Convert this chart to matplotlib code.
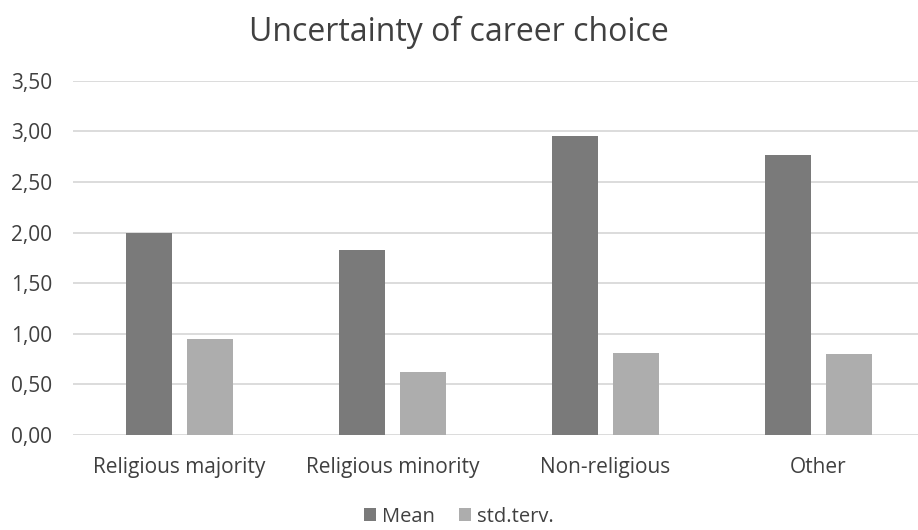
import numpy as np
import matplotlib
matplotlib.use('Agg')
import matplotlib.pyplot as plt

categories = ['Religious majority', 'Religious minority', 'Non-religious', 'Other']
mean_vals = [2.00, 1.83, 2.95, 2.77]
std_vals = [0.95, 0.62, 0.81, 0.80]
yticks = [0.0, 0.5, 1.0, 1.5, 2.0, 2.5, 3.0, 3.5]

plt.rcParams['font.family'] = ['Open Sans', 'DejaVu Sans']
txt = '#404040'

fig = plt.figure(figsize=(9.18, 5.30), dpi=100)
ax = fig.add_axes([73 / 918, 0.179, 1 - 73 / 918, 0.669])

x = np.arange(len(categories))
w = 0.219
off = 0.143
ax.bar(x - off, mean_vals, w, color='#7a7a7a', label='Mean', zorder=3)
ax.bar(x + off, std_vals, w, color='#adadad', label='std.terv.', zorder=3)

ax.set_xlim(-0.5, 3.467)
ax.set_ylim(0, 3.5)
ax.set_yticks(yticks)
ax.yaxis.set_major_formatter(matplotlib.ticker.FuncFormatter(lambda v, p: ('%.2f' % v).replace('.', ',')))
ax.set_xticks(x)
ax.set_xticklabels(categories)
ax.tick_params(length=0, labelsize=15, labelcolor=txt)
ax.tick_params(axis='y', pad=15)
ax.tick_params(axis='x', pad=16)
ax.grid(axis='y', color='#d9d9d9', linewidth=1.3, zorder=0)
for s in ax.spines.values():
    s.set_visible(False)

fig.suptitle('Uncertainty of career choice', y=0.97, fontsize=23, color=txt)
fig.legend(loc='center', bbox_to_anchor=(0.5, 0.025), ncol=2, frameon=False,
           fontsize=14.5, handlelength=0.6, handleheight=0.6, handletextpad=0.3,
           columnspacing=1.2, labelcolor=txt, borderpad=0.1)

fig.savefig('out.png', dpi=100)
